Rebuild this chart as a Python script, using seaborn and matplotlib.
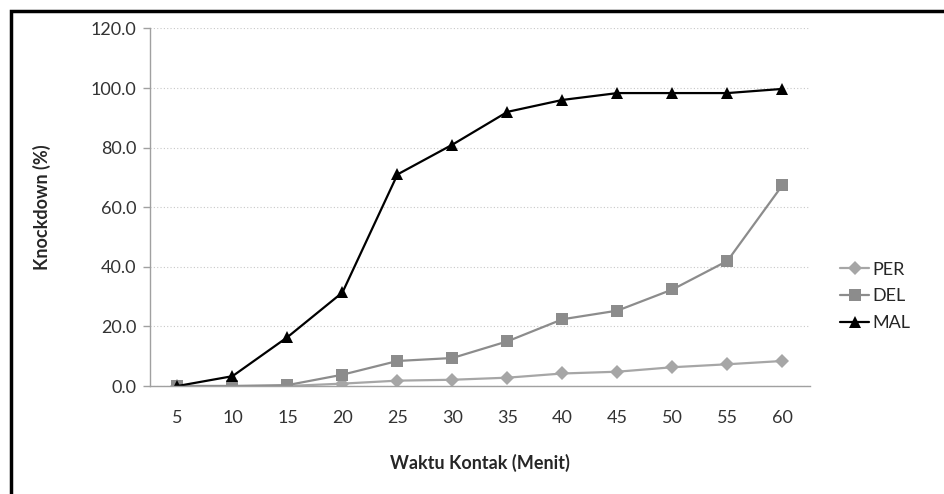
import pandas as pd
import matplotlib.pyplot as plt
import seaborn as sns
from matplotlib.patches import Rectangle
from matplotlib.lines import Line2D

sns.set_theme(style="white")
plt.rcParams['font.family'] = ['Lato', 'DejaVu Sans']

# data
waktu = [5, 10, 15, 20, 25, 30, 35, 40, 45, 50, 55, 60]
per = [0.0, 0.0, 0.0, 0.8, 1.8, 2.1, 2.8, 4.2, 4.8, 6.3, 7.3, 8.4]
dl = [0.0, 0.0, 0.3, 3.8, 8.4, 9.4, 15.0, 22.4, 25.3, 32.4, 42.0, 67.4]
mal = [0.0, 3.3, 16.4, 31.4, 71.0, 81.0, 92.0, 96.0, 98.3, 98.3, 98.3, 99.7]
series = ['PER', 'DEL', 'MAL']

df = pd.DataFrame({
    'Waktu': waktu * 3,
    'Knockdown': per + dl + mal,
    'Seri': ['PER'] * 12 + ['DEL'] * 12 + ['MAL'] * 12,
})

warna = {'PER': '#a6a6a6', 'DEL': '#8c8c8c', 'MAL': '#000000'}
penanda = {'PER': 'D', 'DEL': 's', 'MAL': '^'}
ukuran = {'PER': 7, 'DEL': 9, 'MAL': 9}

fig = plt.figure(figsize=(9.45, 4.94), dpi=100)
ax = fig.add_axes([0.1587, 0.2186, 0.6984, 0.7239])

for s in series:
    sub = df[df['Seri'] == s]
    sns.lineplot(data=sub, x='Waktu', y='Knockdown', ax=ax, color=warna[s],
                 marker=penanda[s], markersize=ukuran[s], markeredgewidth=0,
                 linewidth=1.6, label=s, legend=False)

ax.set_xlim(2.5, 62.5)
ax.set_ylim(0, 120)
ax.set_xticks(waktu)
ax.set_xticklabels([str(w) for w in waktu])
ax.set_yticks(range(0, 121, 20))
ax.set_yticklabels([f"{v:.1f}" for v in range(0, 121, 20)])
ax.tick_params(axis='x', length=0, pad=17, labelsize=13, colors='#333333')
ax.tick_params(axis='y', length=5, width=1, pad=5, labelsize=13,
               colors='#a0a0a0', labelcolor='#333333', left=True)
ax.yaxis.grid(True, linestyle=(0, (1, 2)), color='#c8c8c8', linewidth=0.8)

for side in ['top', 'right']:
    ax.spines[side].set_visible(False)
for side in ['left', 'bottom']:
    ax.spines[side].set_color('#a0a0a0')
    ax.spines[side].set_linewidth(1)

ax.set_xlabel('Waktu Kontak (Menit)', fontsize=13, fontweight='bold', labelpad=20)
ax.set_ylabel('Knockdown (%)', fontsize=13, fontweight='bold', labelpad=28)

handles = [Line2D([], [], color=warna[s], marker=penanda[s], markersize=ukuran[s],
                  markeredgewidth=0, linewidth=1.6) for s in series]
fig.legend(handles, series, loc='center left', bbox_to_anchor=(0.872, 0.40),
           frameon=False, fontsize=13, handlelength=1.6, labelspacing=0.6,
           handletextpad=0.2)

# outer frame like the original screenshot
fig.patches.append(Rectangle((0.0115, -0.2), 1.2, 1.178, transform=fig.transFigure,
                             fill=False, edgecolor='black', linewidth=2.5))

fig.savefig('out.png', dpi=100)
